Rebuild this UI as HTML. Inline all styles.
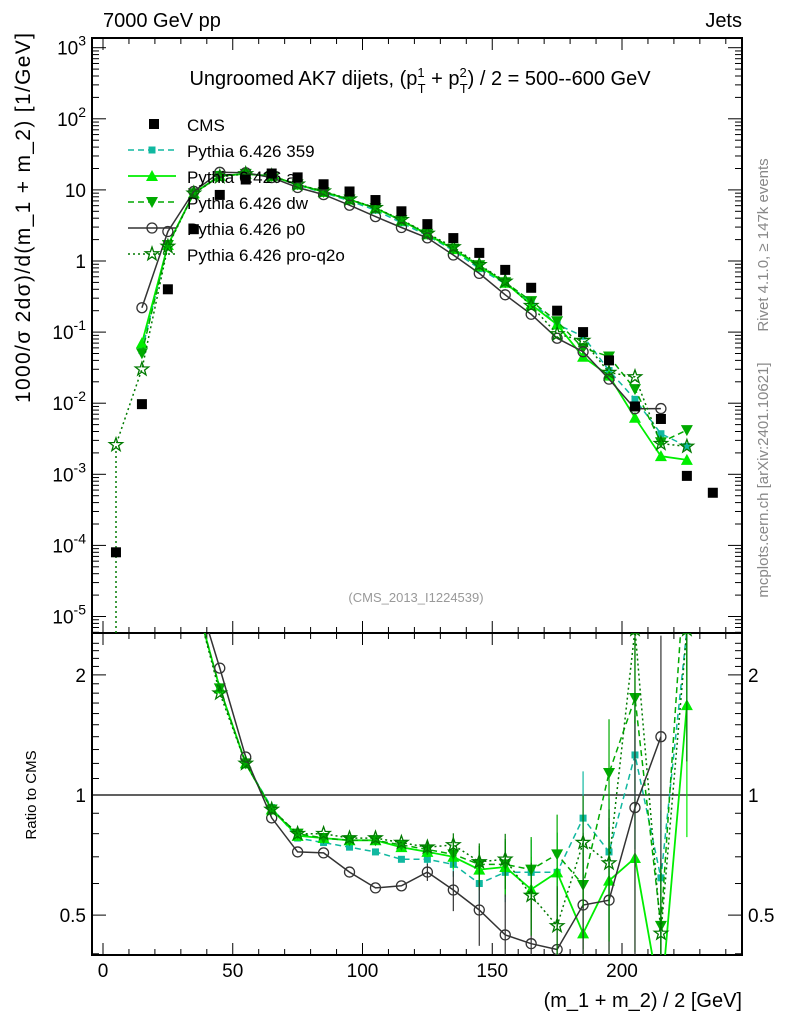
<!DOCTYPE html>
<html><head><meta charset="utf-8"><style>
body{margin:0;background:#fff;font-family:"Liberation Sans",sans-serif}
svg text{font-family:"Liberation Sans",sans-serif}
</style></head><body>
<svg id="c" width="786" height="1024" viewBox="0 0 786 1024" xmlns="http://www.w3.org/2000/svg">
<defs>
<clipPath id="cm"><rect x="92" y="38" width="650" height="595"/></clipPath>
<clipPath id="cr"><rect x="92" y="633" width="650" height="322"/></clipPath>
</defs>
<text x="103" y="27" font-size="20">7000 GeV pp</text>
<text x="742" y="27" font-size="20" text-anchor="end">Jets</text>
<text x="420" y="85" font-size="20" text-anchor="middle">Ungroomed AK7 dijets, (p<tspan font-size="13" dy="-8">1</tspan><tspan font-size="13" dx="-7" dy="16">T</tspan><tspan dy="-8"> + p</tspan><tspan font-size="13" dy="-8">2</tspan><tspan font-size="13" dx="-7" dy="16">T</tspan><tspan dy="-8">) / 2 = 500--600 GeV</tspan></text>
<text x="416" y="602" font-size="13" fill="#999" text-anchor="middle">(CMS_2013_I1224539)</text>
<text transform="translate(768,245) rotate(-90)" font-size="15" fill="#888" text-anchor="middle">Rivet 4.1.0, ≥ 147k events</text>
<text transform="translate(768,480) rotate(-90)" font-size="15" fill="#888" text-anchor="middle">mcplots.cern.ch [arXiv:2401.10621]</text>
<text transform="translate(30,218) rotate(-90)" font-size="21" text-anchor="middle" textLength="370" lengthAdjust="spacing">1000/σ   2dσ)/d(m_1 + m_2) [1/GeV]</text>
<text transform="translate(36,795) rotate(-90)" font-size="15" text-anchor="middle">Ratio to CMS</text>
<text x="742" y="1007" font-size="20" text-anchor="end">(m_1 + m_2) / 2 [GeV]</text>
<g id="axes"></g>
<g id="marks"></g>
<g id="legend"></g>
</svg>
<script>
const xBins=[5,15,25,35,45,55,65,75,85,95,105,115,125,135,145,155,165,175,185,195,205,215,225,235];
const cmsVals=[8e-5,0.0097,0.4,2.8,8.5,14,17,15,12,9.5,7.2,5,3.3,2.1,1.3,0.75,0.42,0.2,0.1,0.04,0.009,0.006,0.00095,0.00055];
const r359=[null,5.7,4.2,3.2,1.85,1.2,0.93,0.78,0.76,0.74,0.72,0.69,0.69,0.67,0.6,0.64,0.64,0.64,0.875,0.72,1.26,0.62,2.6,null];
const rA=[null,7.2,4.2,3.2,1.85,1.2,0.92,0.79,0.78,0.77,0.77,0.74,0.72,0.7,0.65,0.66,0.58,0.64,0.45,0.61,0.695,0.3,1.68,null];
const rDW=[null,5.2,4.2,3.2,1.85,1.2,0.92,0.8,0.78,0.77,0.77,0.75,0.73,0.71,0.67,0.67,0.65,0.71,0.595,1.135,1.75,0.47,4.4,null];
const rP0=[null,22.7,6.5,3.4,2.08,1.245,0.876,0.72,0.716,0.641,0.585,0.592,0.641,0.578,0.515,0.446,0.424,0.41,0.53,0.545,0.93,1.4,null,null];
const rQ2O=[32.5,3.1,4.0,3.2,1.8,1.2,0.92,0.8,0.8,0.78,0.78,0.76,0.74,0.75,0.68,0.69,0.56,0.47,0.76,0.675,2.6,0.45,2.6,null];
const xTicks=[0,50,100,150,200];
const ratioTicks=[0.5,1,2];
const NS='http://www.w3.org/2000/svg';
const X0=92,X1=742,MT=38,MB=633,RB=955;
function sx(v){return 103+v*2.595;}
function sy(v){return 261-71.1*Math.log10(v);}
function sr(v){return 795-399*Math.log10(v);}
function el(t,a,p){const e=document.createElementNS(NS,t);for(const k in a)e.setAttribute(k,a[k]);p.appendChild(e);return e;}
const ax=document.getElementById('axes'),mk=document.getElementById('marks'),lg=document.getElementById('legend');
let f=el('rect',{x:X0,y:MT,width:X1-X0,height:MB-MT,fill:'none',stroke:'#000','stroke-width':2},ax);

f=el('rect',{x:X0,y:MB,width:X1-X0,height:RB-MB,fill:'none',stroke:'#000','stroke-width':2},ax);

let ul=el('line',{x1:X0,x2:X1,y1:sr(1),y2:sr(1),stroke:'#000','stroke-width':1.3},ax);

for(let v=0;v<=240;v+=10){const maj=v%50===0,L=maj?12:6;
 for(const yb of [MB,RB]){el('line',{x1:sx(v),x2:sx(v),y1:yb,y2:yb-L,stroke:'#000'},ax);}
 el('line',{x1:sx(v),x2:sx(v),y1:MT,y2:MT+L,stroke:'#000'},ax);
 el('line',{x1:sx(v),x2:sx(v),y1:MB,y2:MB+L,stroke:'#000'},ax);}
xTicks.forEach(v=>{const t=el('text',{x:sx(v),y:977,'font-size':19,'text-anchor':'middle'},ax);t.textContent=v;
 });
for(let d=-6;d<=3;d++){for(let m=1;m<10;m++){const v=m*Math.pow(10,d),y=sy(v);if(y<MT||y>MB)continue;const L=m===1?14:7;
 el('line',{x1:X0,x2:X0+L,y1:y,y2:y,stroke:'#000'},ax);el('line',{x1:X1,x2:X1-L,y1:y,y2:y,stroke:'#000'},ax);}
 const y=sy(Math.pow(10,d));if(y<MT||y>MB)continue;
 const t=el('text',{x:86,y:y+7,'font-size':19,'text-anchor':'end'},ax);
 
 if(d===0)t.textContent='1';else if(d===1)t.textContent='10';
 else{const a=el('tspan',{},t);a.textContent='10';const b=el('tspan',{'font-size':14,dy:-9},t);b.textContent=String(d);}
}
for(let v=0.4;v<=2.5;v+=0.1){const y=sr(v);if(y<MB||y>RB)continue;const maj=[0.5,1,2].some(q=>Math.abs(q-v)<1e-6);const L=maj?14:7;
 el('line',{x1:X0,x2:X0+L,y1:y,y2:y,stroke:'#000'},ax);el('line',{x1:X1,x2:X1-L,y1:y,y2:y,stroke:'#000'},ax);}
ratioTicks.forEach(v=>{const y=sr(v);
 let t=el('text',{x:86,y:y+7,'font-size':19,'text-anchor':'end'},ax);t.textContent=v;
 
 t=el('text',{x:748,y:y+7,'font-size':19},ax);t.textContent=v;
 });
function marker(type,x,y,color,g,s){s=s||5;
 if(type==='sq')return el('rect',{x:x-s,y:y-s,width:2*s,height:2*s,fill:color},g);
 if(type==='ssq')return el('rect',{x:x-3.5,y:y-3.5,width:7,height:7,fill:color},g);
 if(type==='tu')return el('polygon',{points:`${x},${y-6} ${x-6},${y+5} ${x+6},${y+5}`,fill:color},g);
 if(type==='td')return el('polygon',{points:`${x},${y+6} ${x-6},${y-5} ${x+6},${y-5}`,fill:color},g);
 if(type==='circ')return el('circle',{cx:x,cy:y,r:5,fill:'none',stroke:color,'stroke-width':1.3},g);
 if(type==='star'){let p=[];for(let i=0;i<10;i++){const r=i%2?2.8:7,a=-Math.PI/2+i*Math.PI/5;p.push((x+r*Math.cos(a)).toFixed(1)+','+(y+r*Math.sin(a)).toFixed(1));}
  return el('polygon',{points:p.join(' '),fill:'none',stroke:color,'stroke-width':1.3},g);}
}
const series=[
 {name:'Pythia 6.426 359',r:r359,c:'#10b8a0',dash:'6,4',m:'ssq',w:1.5},
 {name:'Pythia 6.426 a',r:rA,c:'#00ee00',dash:'',m:'tu',w:1.8},
 {name:'Pythia 6.426 dw',r:rDW,c:'#00aa00',dash:'6,4',m:'td',w:1.5},
 {name:'Pythia 6.426 p0',r:rP0,c:'#333333',dash:'',m:'circ',w:1.5},
 {name:'Pythia 6.426 pro-q2o',r:rQ2O,c:'#007a00',dash:'2,3',m:'star',w:1.5}];
const gm=el('g',{'clip-path':'url(#cm)'},mk),gr=el('g',{'clip-path':'url(#cr)'},mk);
series.forEach((s,si)=>{
 const key=s.name.replace(/[^a-z0-9]+/gi,'-').toLowerCase();
 let pm=[],pr=[];
 xBins.forEach((x,i)=>{const r=s.r[i];if(r==null)return;const v=r*cmsVals[i];
  pm.push(sx(x).toFixed(1)+','+sy(v).toFixed(1));pr.push(sx(x).toFixed(1)+','+sr(r).toFixed(1));});
 if(s.r[0]!=null){pm.unshift(sx(xBins[0]).toFixed(1)+','+(MB+5));}
 let l=el('polyline',{points:pm.join(' '),fill:'none',stroke:s.c,'stroke-width':s.w,'stroke-dasharray':s.dash},gm);
 
 l=el('polyline',{points:pr.join(' '),fill:'none',stroke:s.c,'stroke-width':s.w,'stroke-dasharray':s.dash},gr);
 
 xBins.forEach((x,i)=>{const r=s.r[i];if(r==null)return;const v=r*cmsVals[i];
  if(i>=12){const e=(si===3?0.05:0.03)*Math.pow(i-11,1.2)*r;const eb=el('line',{x1:sx(x),x2:sx(x),y1:sr(r+e),y2:sr(Math.max(r-e,0.3)),stroke:s.c,'stroke-width':1.2},gr);
   }
  let m=marker(s.m,sx(x),sy(v),s.c,gm);
  m=marker(s.m,sx(x),sr(r),s.c,gr);});
});
xBins.forEach((x,i)=>{const m=marker('sq',sx(x),sy(cmsVals[i]),'#000',gm);
 });
const ly=[124,150,176,202,228,254];
let m=marker('sq',154,ly[0],'#000',lg);
let t=el('text',{x:187,y:ly[0]+7,'font-size':17},lg);t.textContent='CMS';
series.forEach((s,i)=>{const y=ly[i+1];const key=s.name.replace(/[^a-z0-9]+/gi,'-').toLowerCase();
 const l=el('line',{x1:128,x2:176,y1:y,y2:y,stroke:s.c,'stroke-width':s.w,'stroke-dasharray':s.dash},lg);
 
 const mm=marker(s.m,152,y,s.c,lg);
 const tt=el('text',{x:187,y:y+7,'font-size':17},lg);tt.textContent=s.name;
 });
</script>
</body></html>
